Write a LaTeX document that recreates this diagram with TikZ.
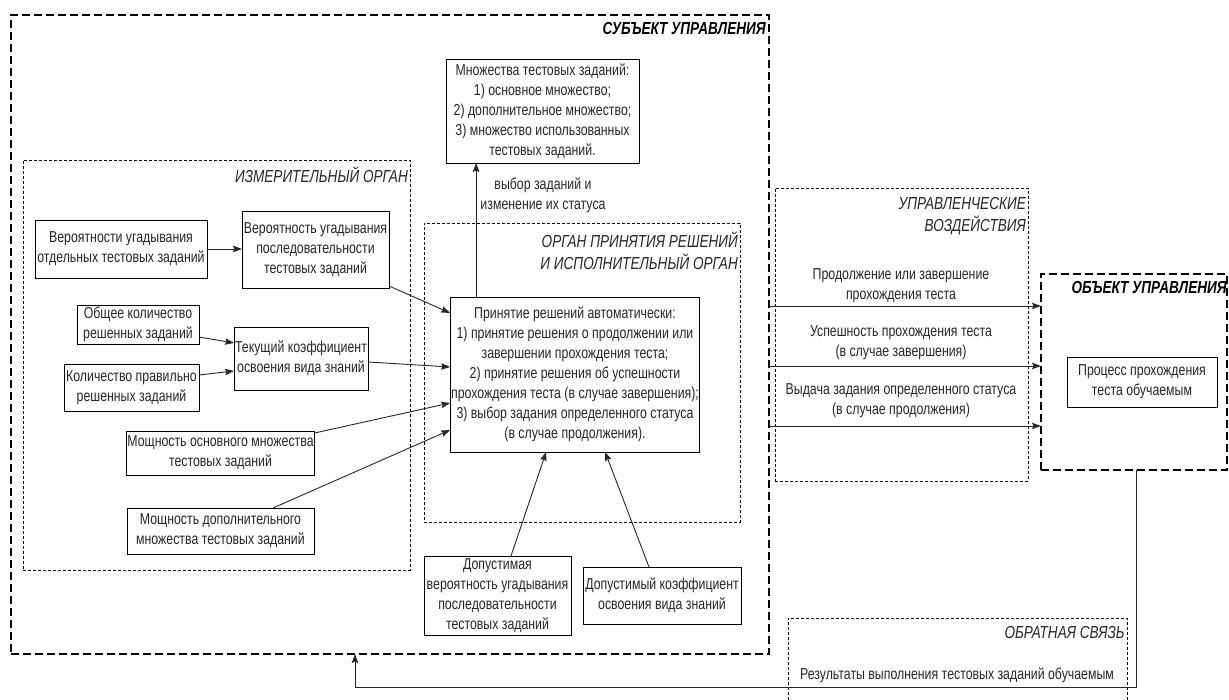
\documentclass[tikz,border=0pt]{standalone}
\usepackage{fontspec}
\setmainfont[FakeStretch=0.78]{Liberation Sans}
\usetikzlibrary{arrows.meta,calc}
\newcommand\dgfs{\fontsize{15.8}{20}\selectfont}
\newcommand\dgtfs{\fontsize{17.4}{22}\selectfont}
\tikzset{
  box/.style={draw, line width=0.9pt, align=center, inner sep=1pt, outer sep=0pt, font=\dgfs, text=black!85},
  heavy/.style={draw, line width=2pt, dash pattern=on 8pt off 4pt, outer sep=0pt, inner sep=0pt},
  thin/.style={draw, line width=0.7pt, dash pattern=on 3pt off 2pt, outer sep=0pt, inner sep=0pt},
  ttl/.style={inner sep=0pt, align=right, font=\dgtfs\itshape, text=black!85},
  bttl/.style={inner sep=0pt, align=right, font=\dgtfs\bfseries\itshape, text=black},
  lbl/.style={inner sep=0pt, align=center, font=\dgfs, text=black!85},
  arr/.style={line width=0.9pt, draw=black!85, -{Stealth[length=9pt,width=6.5pt,inset=1.5pt]}},
}
\begin{document}
\begin{tikzpicture}[x=1pt,y=-1pt]
\useasboundingbox (0,0) rectangle (1229,700);
% containers
\node[heavy, minimum width=758pt, minimum height=639pt] (S) at (390,334.5) {};
\node[thin, minimum width=387pt, minimum height=410pt] (IZM) at (216.5,365) {};
\node[thin, minimum width=316pt, minimum height=299pt] (ORG) at (582,372.5) {};
\node[thin, minimum width=253pt, minimum height=293pt] (UPR) at (901.5,334.5) {};
\node[heavy, minimum width=186pt, minimum height=196pt] (OBJ) at (1134,372) {};
\draw[line width=0.7pt, dash pattern=on 3pt off 2pt] (788,700) -- (788,618) -- (1127,618) -- (1127,700);
% titles
\node[bttl, anchor=east] (Sttl) at (766,29) {СУБЪЕКТ УПРАВЛЕНИЯ};
\node[ttl, anchor=east] (IZMttl) at (408,175) {ИЗМЕРИТЕЛЬНЫЙ ОРГАН};
\node[ttl, anchor=east] (ORGttl) at (738,251) {ОРГАН ПРИНЯТИЯ РЕШЕНИЙ\\И ИСПОЛНИТЕЛЬНЫЙ ОРГАН};
\node[ttl, anchor=east] (UPRttl) at (1026,216) {УПРАВЛЕНЧЕСКИЕ\\ВОЗДЕЙСТВИЯ};
\node[bttl, anchor=east] (OBJttl) at (1227,288) {ОБЪЕКТ УПРАВЛЕНИЯ};
\node[ttl, anchor=east] (OBRttl) at (1125,633) {ОБРАТНАЯ СВЯЗЬ};
% boxes
\node[box, minimum width=172pt, minimum height=58pt] (b1) at (121,249) {Вероятности угадывания\\отдельных тестовых заданий};
\node[box, minimum width=147pt, minimum height=77pt] (b2) at (315.5,249.5) {Вероятность угадывания\\последовательности\\тестовых заданий};
\node[box, minimum width=122pt, minimum height=39pt] (b3) at (138,324.5) {Общее количество\\решенных заданий};
\node[box, minimum width=134pt, minimum height=63pt] (b4) at (301,358.5) {Текущий коэффициент\\освоения вида знаний};
\node[box, minimum width=135pt, minimum height=47pt] (b5) at (131.5,387.5) {Количество правильно\\решенных заданий};
\node[box, minimum width=187pt, minimum height=44pt] (b6) at (220.5,453) {Мощность основного множества\\тестовых заданий};
\node[box, minimum width=187pt, minimum height=46pt] (b7) at (220.5,531) {Мощность дополнительного\\множества тестовых заданий};
\node[box, minimum width=248pt, minimum height=155pt] (main) at (575,374.5) {Принятие решений автоматически:\\1) принятие решения о продолжении или\\завершении прохождения теста;\\2) принятие решения об успешности\\прохождения теста (в случае завершения);\\3) выбор задания определенного статуса\\(в случае продолжения).};
\node[box, minimum width=193pt, minimum height=104pt] (sets) at (542.5,111) {Множества тестовых заданий:\\1) основное множество;\\2) дополнительное множество;\\3) множество использованных\\тестовых заданий.};
\node[box, minimum width=147pt, minimum height=79pt] (d1) at (497.5,595.5) {Допустимая\\вероятность угадывания\\последовательности\\тестовых заданий};
\node[box, minimum width=158pt, minimum height=57pt] (d2) at (662,595.5) {Допустимый коэффициент\\освоения вида знаний};
\node[box, minimum width=150pt, minimum height=50pt] (proc) at (1142,382) {Процесс прохождения\\теста обучаемым};
% labels
\node[lbl] (lsel) at (543,195.5) {выбор заданий и\\изменение их статуса};
\node[lbl] (l1) at (901,286) {Продолжение или завершение\\прохождения теста};
\node[lbl] (l2) at (901,342.5) {Успешность прохождения теста\\(в случае завершения)};
\node[lbl] (l3) at (901,401) {Выдача задания определенного статуса\\(в случае продолжения)};
\node[lbl] (lfb) at (957,675) {Результаты выполнения тестовых заданий обучаемым};
% connectors
\draw[arr] (b1.east) -- (b1.east -| b2.west);
\draw[arr] ($(b3.south east)+(0,-7)$) -- ($(b4.north west)+(0,16)$);
\draw[arr] ($(b5.east)+(0,-12.5)$) -- ($(b4.west)+(0,12.5)$);
\draw[arr] ($(b2.south east)+(0,-2)$) -- ($(main.north west)+(0,16)$);
\draw[arr] ($(b4.east)+(0,3.5)$) -- ($(main.north west)+(0,70)$);
\draw[arr] ($(b6.north east)+(0,2)$) -- ($(main.north west)+(0,106)$);
\draw[arr] ($(b7.north)+(52.5,0)$) -- ($(main.north west)+(0,133)$);
\draw[arr] ($(main.north west)+(26,0)$) coordinate (mtop) -- (mtop |- sets.south);
\draw[arr] ($(d1.north)+(13.5,0)$) -- ($(main.south west)+(96,0)$);
\draw[arr] ($(d2.north)+(-13,0)$) -- ($(main.south west)+(155,0)$);
\draw[arr] (S.east |- 0,306) -- (OBJ.west |- 0,306);
\draw[arr] (S.east |- 0,366) -- (OBJ.west |- 0,366);
\draw[arr] (S.east |- 0,426) -- (OBJ.west |- 0,426);
\coordinate (fbc) at (355,687);
\draw[arr] ($(OBJ.south)+(2,0)$) |- (fbc) -- (fbc |- S.south);
\end{tikzpicture}
\end{document}
